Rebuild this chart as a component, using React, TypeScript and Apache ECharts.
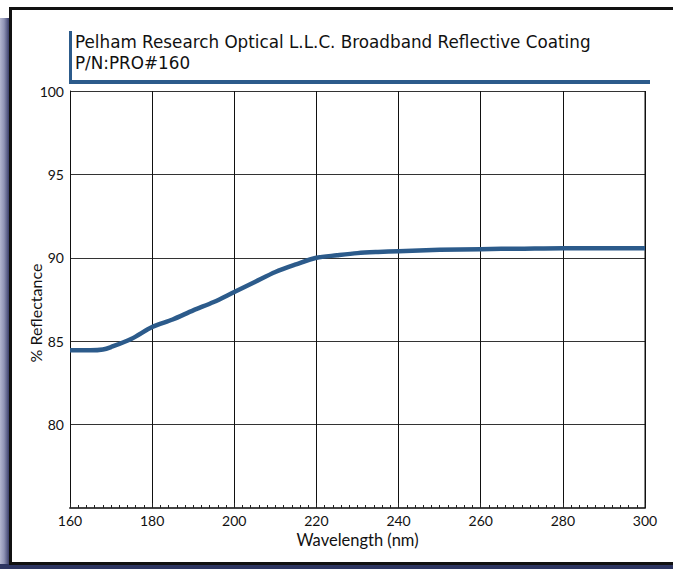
import React, { useEffect, useRef } from "react";
import * as echarts from "echarts";

const wavelengths = [160, 165, 168, 170, 175, 180, 185, 190, 195, 200, 205, 210, 215, 220, 225, 230, 235, 240, 250, 260, 270, 280, 290, 300];
const reflectance = [84.45, 84.45, 84.5, 84.65, 85.15, 85.85, 86.3, 86.85, 87.35, 87.95, 88.55, 89.15, 89.6, 90.0, 90.15, 90.28, 90.35, 90.4, 90.48, 90.52, 90.55, 90.58, 90.58, 90.58];
const titleLines = ["Pelham Research Optical L.L.C. Broadband Reflective Coating", "P/N:PRO#160"];
const xAxisName = "Wavelength (nm)";
const yAxisName = "% Reflectance";

const FONT = "Lato";
const TITLE_FONT = "'DejaVu Sans'";
const BLUE = "#2c5b8b";

export default function App() {
  const ref = useRef<HTMLDivElement>(null);
  useEffect(() => {
    document.body.style.margin = "0";
    const chart = echarts.init(ref.current!, null, { renderer: "svg" });
    chart.setOption({
      animation: false,
      backgroundColor: "#ffffff",
      grid: { left: 70, right: 28, top: 91, bottom: 61, containLabel: false },
      xAxis: {
        type: "value",
        min: 160,
        max: 300,
        interval: 20,
        name: xAxisName,
        nameLocation: "middle",
        nameGap: 16,
        nameTextStyle: { fontFamily: FONT, fontSize: 16.5, color: "#111" },
        axisLine: { show: true, lineStyle: { color: "#444", width: 2 } },
        axisTick: { show: true, inside: true, length: 5, lineStyle: { color: "#222" } },
        minorTick: { show: true, splitNumber: 10, length: 3, lineStyle: { color: "#222" } },
        axisLabel: { fontFamily: FONT, fontSize: 14, color: "#111", margin: 5, showMinLabel: true, showMaxLabel: true },
        splitLine: { show: true, lineStyle: { color: "#111", width: 1 } },
      },
      yAxis: {
        type: "value",
        min: 75,
        max: 100,
        interval: 5,
        axisLine: { show: true, lineStyle: { color: "#111", width: 1 } },
        axisTick: { show: false },
        axisLabel: {
          fontFamily: FONT,
          fontSize: 14,
          color: "#111",
          margin: 6,
          formatter: (v: number) => (v === 75 ? "" : String(v)),
        },
        splitLine: { show: true, lineStyle: { color: "#333", width: 1 } },
      },
      series: [
        {
          type: "line",
          data: wavelengths.map((w, i) => [w, reflectance[i]]),
          smooth: 0.3,
          showSymbol: false,
          lineStyle: { color: BLUE, width: 4.5 },
          z: 5,
        },
      ],
      graphic: [
        // right border of plot
        { type: "line", shape: { x1: 645, y1: 91, x2: 645, y2: 508 }, style: { stroke: "#111", lineWidth: 1 }, z: 3 },
        // left shadow strip
        {
          type: "rect",
          shape: { x: 0, y: 18, width: 9, height: 551 },
          style: {
            fill: new echarts.graphic.LinearGradient(0, 0, 1, 0, [
              { offset: 0, color: "#b3b6cf" },
              { offset: 0.45, color: "#8f93b5" },
              { offset: 1, color: "#3b3f6b" },
            ]),
          },
        },
        // bottom navy strip
        { type: "rect", shape: { x: 0, y: 564, width: 673, height: 5 }, style: { fill: "#2d3561" } },
        // frame lines
        { type: "rect", shape: { x: 9, y: 7, width: 3, height: 558 }, style: { fill: "#111" } },
        { type: "rect", shape: { x: 9, y: 7, width: 664, height: 3 }, style: { fill: "#111" } },
        { type: "rect", shape: { x: 9, y: 562, width: 664, height: 3 }, style: { fill: "#111" } },
        // title bars
        { type: "rect", shape: { x: 69, y: 31, width: 3, height: 53 }, style: { fill: BLUE } },
        { type: "rect", shape: { x: 69, y: 80, width: 581, height: 4 }, style: { fill: BLUE } },
        // title text
        {
          type: "text",
          x: 75,
          y: 42,
          style: { text: titleLines[0], font: `16.8px ${TITLE_FONT}`, fill: "#111", align: "left", verticalAlign: "middle" },
        },
        {
          type: "text",
          x: 75,
          y: 63,
          style: { text: titleLines[1], font: `16.8px ${TITLE_FONT}`, fill: "#111", align: "left", verticalAlign: "middle" },
        },
        // y axis name
        {
          type: "text",
          x: 35,
          y: 313,
          rotation: Math.PI / 2,
          style: { text: yAxisName, font: `16px ${FONT}`, fill: "#111", align: "center", verticalAlign: "middle" },
        },
      ],
    });
    return () => chart.dispose();
  }, []);
  return <div ref={ref} style={{ position: "fixed", left: 0, top: 0, width: 673, height: 569 }} />;
}
